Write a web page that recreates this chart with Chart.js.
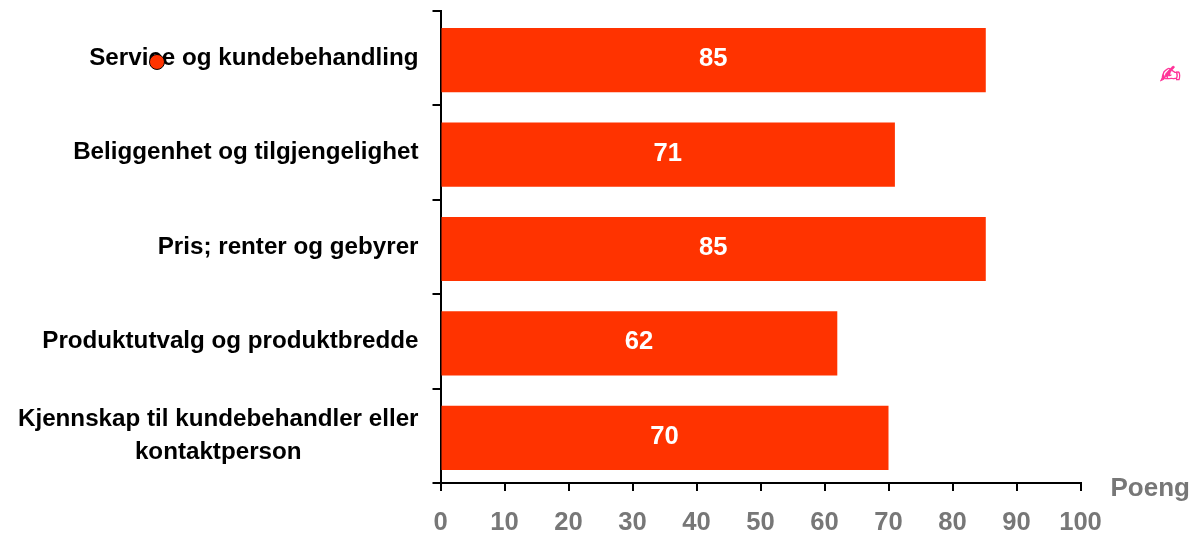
<!DOCTYPE html>
<html>
<head>
<meta charset="utf-8">
<script src="https://cdn.jsdelivr.net/npm/chart.js@4"></script>
<style>
  html, body { margin: 0; padding: 0; background: #fff; overflow: hidden; }
  canvas { display: block; }
</style>
</head>
<body>
<canvas id="chart" width="1193" height="533"></canvas>
<script>
const categories = ['Service og kundebehandling', 'Beliggenhet og tilgjengelighet', 'Pris; renter og gebyrer', 'Produktutvalg og produktbredde', 'Kjennskap til kundebehandler eller|kontaktperson']
const values = [85.2, 71, 85.2, 62, 70]
const valueLabels = ['85', '71', '85', '62', '70']
const xTicks = [0, 10, 20, 30, 40, 50, 60, 70, 80, 90, 100]
const xAxisName = 'Poeng'
const dot = [{ x: -44.3, y: 0.54 }]
const penSign = '\u270D'

const fontFamily = '"Liberation Sans", Arial, sans-serif'
const barShift = 2 // bars sit a bit low between the ticks

// texts chart.js can't place the way the picture has them
const textPlugin = {
  id: 'texts',
  beforeDatasetDraw(chart, args) {
    if (args.index === 1) {
      chart.ctx.save()
      chart.ctx.translate(0, barShift)
    }
  },
  afterDatasetDraw(chart, args) {
    if (args.index === 1) chart.ctx.restore()
  },
  afterDraw(chart) {
    const ctx = chart.ctx
    const xs = chart.scales.x
    const ys = chart.scales.y
    ctx.save()
    ctx.textBaseline = 'middle'

    // category labels, multi line ones centered as a block
    ctx.fillStyle = '#000'
    ctx.font = 'bold 24.2px ' + fontFamily
    ctx.textAlign = 'center'
    categories.forEach((cat, i) => {
      const lines = cat.split('|')
      const y = ys.getPixelForTick(i) - (lines.length - 1) * 16.5
      const w = Math.max(...lines.map(l => ctx.measureText(l).width))
      lines.forEach((line, n) => {
        ctx.fillText(line, xs.left - 22 - w / 2, y + n * 33)
      })
    })

    // values in the bars
    ctx.fillStyle = '#fff'
    ctx.font = 'bold 25.6px ' + fontFamily
    chart.getDatasetMeta(1).data.forEach((bar, i) => {
      ctx.fillText(valueLabels[i], (bar.x + bar.base) / 2 - 0.5, bar.y + barShift - 1)
    })

    ctx.fillStyle = '#777777'
    ctx.textAlign = 'left'
    ctx.font = 'bold 26px ' + fontFamily
    ctx.fillText(xAxisName, xs.right + 30, ys.bottom + 6)

    ctx.fillStyle = '#ff3399'
    ctx.strokeStyle = '#ff3399'
    ctx.lineWidth = 0.6
    ctx.textAlign = 'center'
    ctx.font = 'bold 25px "DejaVu Sans"'
    ctx.fillText(penSign, xs.right + 90, ys.top + 65)
    ctx.strokeText(penSign, xs.right + 90, ys.top + 65)

    // the dot lies outside the chart area, so chart.js skips it by itself
    chart.getDatasetMeta(0).data[0].draw(ctx, { left: 0, top: 0, right: chart.width, bottom: chart.height })
    ctx.restore()
  }
}

new Chart(document.getElementById('chart').getContext('2d'), {
  data: {
    labels: categories,
    datasets: [
      {
        type: 'scatter',
        data: dot,
        xAxisID: 'x',
        yAxisID: 'pos',
        clip: false,
        pointRadius: 7.5,
        pointHoverRadius: 7.5,
        backgroundColor: '#ff3300',
        borderColor: '#000',
        borderWidth: 1
      },
      {
        type: 'bar',
        indexAxis: 'y',
        data: values,
        xAxisID: 'x',
        yAxisID: 'y',
        backgroundColor: '#ff3300',
        barPercentage: 0.68,
        categoryPercentage: 1
      }
    ]
  },
  options: {
    responsive: false,
    animation: false,
    layout: { padding: { top: 11, right: 112.5, bottom: 0, left: 0 } },
    plugins: { legend: { display: false }, tooltip: { enabled: false } },
    scales: {
      x: {
        type: 'linear',
        position: 'bottom',
        min: 0,
        max: 100,
        afterBuildTicks(axis) { axis.ticks = xTicks.map(v => ({ value: v })) },
        afterFit(axis) { axis.height = 50 },
        border: { color: '#000', width: 2 },
        grid: { drawOnChartArea: false, color: '#000', lineWidth: 2, tickLength: 8 },
        ticks: {
          color: '#777777',
          font: { family: fontFamily, size: 25.6, weight: 'bold' },
          padding: 17,
          maxRotation: 0,
          autoSkip: false
        }
      },
      y: {
        type: 'category',
        position: 'left',
        offset: true,
        afterFit(axis) { axis.width = 440.5 },
        border: { color: '#000', width: 2 },
        grid: { offset: true, drawOnChartArea: false, color: '#000', lineWidth: 2, tickLength: 8 },
        ticks: { display: false }
      },
      pos: { type: 'linear', display: false, min: 0, max: 5, reverse: true }
    }
  },
  plugins: [textPlugin]
})
</script>
</body>
</html>
